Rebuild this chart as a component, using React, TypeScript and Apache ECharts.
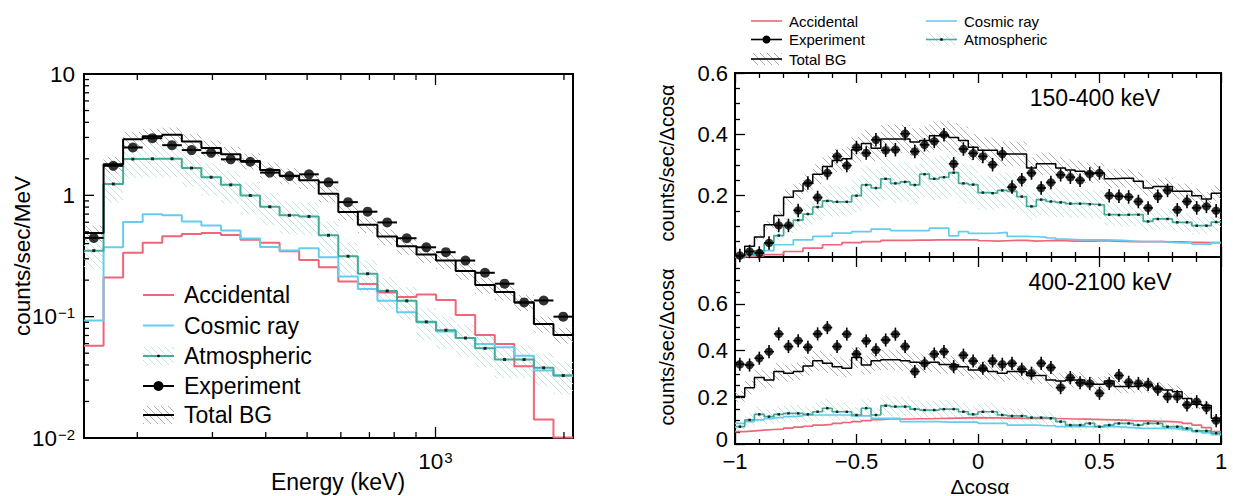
import React, { useEffect, useRef } from "react";
import * as echarts from "echarts";

const FONT = '"Liberation Sans", Arial, Helvetica, sans-serif';
const RED = "#EE6677";
const BLUE = "#66CCEE";
const TEAL = "#44AA99";
const BLACK = "#000000";

// ---------- Energy spectrum: 25 log-spaced bins, 150-2100 keV ----------
const energyEdges = [
  150, 166.7, 185.26, 205.89, 228.81, 254.29, 282.6, 314.07, 349.04, 387.9,
  431.09, 479.09, 532.43, 591.71, 657.59, 730.81, 812.18, 902.61, 1003.1,
  1114.8, 1238.9, 1376.8, 1530.1, 1700.5, 1889.8, 2100,
];
const accidentalSpec = [
  0.0577, 0.21, 0.336, 0.406, 0.46, 0.48, 0.49, 0.47, 0.43, 0.406, 0.346,
  0.293, 0.255, 0.195, 0.186, 0.158, 0.145, 0.152, 0.137, 0.103, 0.0705,
  0.0596, 0.0391, 0.0142, 0.0101,
];
const cosmicSpec = [
  0.093, 0.373, 0.603, 0.7, 0.686, 0.61, 0.563, 0.512, 0.44, 0.376, 0.351,
  0.366, 0.309, 0.214, 0.169, 0.135, 0.109, 0.0896, 0.0753, 0.0667, 0.0596,
  0.056, 0.0477, 0.036, 0.0327,
];
const atmosphericSpec = [
  0.35, 1.24, 1.99, 2.0, 2.0, 1.68, 1.41, 1.22, 0.997, 0.805, 0.684, 0.67,
  0.469, 0.315, 0.226, 0.163, 0.135, 0.0906, 0.0774, 0.0667, 0.0548, 0.0443,
  0.0443, 0.0379, 0.0327,
];
const totalBgSpec = [
  0.49, 1.8, 2.9, 3.07, 3.15, 2.78, 2.45, 2.18, 1.92, 1.62, 1.45, 1.33, 1.03,
  0.73, 0.573, 0.457, 0.38, 0.325, 0.29, 0.238, 0.182, 0.16, 0.131, 0.0869,
  0.0705,
];
const experimentSpec = [
  0.446, 1.75, 2.48, 2.96, 2.59, 2.36, 2.24, 1.98, 1.89, 1.54, 1.44, 1.49,
  1.28, 0.879, 0.733, 0.598, 0.443, 0.373, 0.34, 0.29, 0.23, 0.187, 0.131,
  0.136, 0.1,
];
const specTotalRelErr = 0.15;
const specAtmosRelErr = 0.3;
const specXTicks = [200, 300, 400, 500, 600, 700, 800, 900, 1000, 2000];
const specXMajor = [0, 0, 0, 0, 0, 0, 0, 0, 1, 0];
const specYTicks = [
  0.02, 0.03, 0.04, 0.05, 0.06, 0.07, 0.08, 0.09, 0.1, 0.2, 0.3, 0.4, 0.5,
  0.6, 0.7, 0.8, 0.9, 1, 2, 3, 4, 5, 6, 7, 8, 9,
];
const specYMajor = [0, 0, 0, 0, 0, 0, 0, 0, 1, 0, 0, 0, 0, 0, 0, 0, 0, 1, 0, 0, 0, 0, 0, 0, 0, 0];

// ---------- Angular distributions: 50 bins over Δcosα in [-1, 1] ----------
const cosEdges = Array.from({ length: 51 }, (_, i) => Math.round((-1 + i * 0.04) * 100) / 100);

// 150-400 keV
const experimentLow = [
  0.005, 0.018, 0.013, 0.046, 0.103, 0.103, 0.152, 0.241, 0.194, 0.274, 0.328,
  0.298, 0.357, 0.339, 0.382, 0.348, 0.35, 0.402, 0.344, 0.366, 0.377, 0.399,
  0.304, 0.352, 0.338, 0.328, 0.301, 0.336, 0.228, 0.252, 0.274, 0.225, 0.243,
  0.268, 0.26, 0.25, 0.271, 0.274, 0.2, 0.198, 0.196, 0.181, 0.16, 0.198,
  0.217, 0.154, 0.181, 0.16, 0.165, 0.151,
];
const totalBgLow = [
  0.004, 0.035, 0.065, 0.105, 0.135, 0.195, 0.215, 0.24, 0.27, 0.295, 0.315,
  0.32, 0.35, 0.37, 0.355, 0.385, 0.385, 0.385, 0.375, 0.38, 0.395, 0.395,
  0.39, 0.38, 0.358, 0.348, 0.348, 0.336, 0.336, 0.336, 0.29, 0.304, 0.304,
  0.29, 0.284, 0.28, 0.274, 0.274, 0.255, 0.257, 0.257, 0.247, 0.225, 0.23,
  0.23, 0.214, 0.214, 0.2, 0.189, 0.208,
];
const atmosphericLow = [
  0.002, 0.008, 0.02, 0.045, 0.07, 0.1, 0.12, 0.14, 0.163, 0.183, 0.18, 0.18,
  0.2, 0.235, 0.225, 0.255, 0.24, 0.245, 0.235, 0.27, 0.255, 0.26, 0.275,
  0.24, 0.236, 0.21, 0.208, 0.217, 0.214, 0.197, 0.165, 0.187, 0.181, 0.178,
  0.174, 0.174, 0.172, 0.17, 0.138, 0.137, 0.138, 0.138, 0.116, 0.124, 0.124,
  0.113, 0.113, 0.102, 0.102, 0.114,
];
const cosmicLow = [
  0.0, 0.005, 0.012, 0.021, 0.04, 0.04, 0.056, 0.056, 0.067, 0.067, 0.078,
  0.078, 0.083, 0.083, 0.091, 0.091, 0.086, 0.086, 0.086, 0.086, 0.094, 0.094,
  0.069, 0.083, 0.077, 0.077, 0.078, 0.08, 0.067, 0.067, 0.066, 0.065, 0.062,
  0.058, 0.057, 0.056, 0.056, 0.056, 0.055, 0.054, 0.052, 0.05, 0.05, 0.05,
  0.048, 0.046, 0.046, 0.042, 0.042, 0.047,
];
const accidentalLow = [
  0.0, 0.002, 0.004, 0.008, 0.008, 0.018, 0.018, 0.029, 0.029, 0.04, 0.04,
  0.047, 0.047, 0.05, 0.05, 0.054, 0.054, 0.054, 0.055, 0.055, 0.056, 0.056,
  0.056, 0.056, 0.056, 0.053, 0.052, 0.053, 0.054, 0.054, 0.052, 0.053, 0.054,
  0.053, 0.052, 0.052, 0.052, 0.053, 0.052, 0.051, 0.05, 0.05, 0.05, 0.05,
  0.049, 0.049, 0.048, 0.048, 0.047, 0.047,
];

// 400-2100 keV
const experimentHigh = [
  0.341, 0.338, 0.367, 0.395, 0.471, 0.417, 0.442, 0.414, 0.471, 0.498, 0.417,
  0.47, 0.385, 0.441, 0.403, 0.445, 0.47, 0.417, 0.31, 0.345, 0.385, 0.395,
  0.331, 0.38, 0.355, 0.324, 0.355, 0.341, 0.345, 0.32, 0.303, 0.345, 0.327,
  0.241, 0.284, 0.262, 0.259, 0.217, 0.259, 0.293, 0.264, 0.259, 0.255, 0.234,
  0.203, 0.203, 0.167, 0.181, 0.155, 0.1,
];
const totalBgHigh = [
  0.203, 0.241, 0.284, 0.274, 0.31, 0.303, 0.31, 0.334, 0.356, 0.345, 0.331,
  0.324, 0.37, 0.338, 0.356, 0.36, 0.36, 0.356, 0.35, 0.345, 0.35, 0.34,
  0.338, 0.33, 0.317, 0.317, 0.31, 0.303, 0.31, 0.31, 0.293, 0.293, 0.274,
  0.27, 0.274, 0.274, 0.256, 0.256, 0.27, 0.246, 0.246, 0.249, 0.249, 0.238,
  0.231, 0.224, 0.195, 0.17, 0.165, 0.11,
];
const atmosphericHigh = [
  0.074, 0.103, 0.127, 0.117, 0.127, 0.131, 0.131, 0.127, 0.138, 0.153, 0.138,
  0.138, 0.124, 0.153, 0.124, 0.164, 0.16, 0.16, 0.149, 0.145, 0.145, 0.149,
  0.149, 0.138, 0.127, 0.138, 0.138, 0.124, 0.12, 0.12, 0.113, 0.113, 0.11,
  0.096, 0.081, 0.081, 0.088, 0.074, 0.081, 0.088, 0.088, 0.081, 0.088, 0.088,
  0.074, 0.074, 0.067, 0.056, 0.056, 0.046,
];
const cosmicHigh = [
  0.088, 0.096, 0.103, 0.108, 0.113, 0.117, 0.12, 0.124, 0.124, 0.124, 0.124,
  0.124, 0.12, 0.12, 0.11, 0.11, 0.11, 0.096, 0.096, 0.096, 0.096, 0.094,
  0.094, 0.094, 0.094, 0.088, 0.088, 0.088, 0.081, 0.081, 0.081, 0.078, 0.078,
  0.074, 0.074, 0.074, 0.074, 0.074, 0.074, 0.072, 0.07, 0.067, 0.067, 0.067,
  0.067, 0.064, 0.06, 0.053, 0.048, 0.04,
];
const accidentalHigh = [
  0.053, 0.056, 0.059, 0.062, 0.064, 0.068, 0.072, 0.076, 0.081, 0.084, 0.088,
  0.092, 0.096, 0.1, 0.104, 0.107, 0.107, 0.107, 0.108, 0.108, 0.109, 0.11,
  0.111, 0.112, 0.113, 0.112, 0.112, 0.111, 0.111, 0.11, 0.11, 0.11, 0.109,
  0.108, 0.107, 0.106, 0.105, 0.104, 0.103, 0.102, 0.1, 0.099, 0.098, 0.097,
  0.096, 0.093, 0.088, 0.081, 0.07, 0.053,
];
const angTotalRelErr = 0.12;
const angAtmosRelErr = 0.27;
const expErrLow = 0.022;
const expErrHigh = 0.028;

// ---------- helpers ----------
function hatchPattern(color: string, size: number, lw: number) {
  const c = document.createElement("canvas");
  c.width = size;
  c.height = size;
  const g = c.getContext("2d")!;
  g.strokeStyle = color;
  g.lineWidth = lw;
  g.beginPath();
  g.moveTo(0, 0);
  g.lineTo(size, size);
  g.moveTo(-1, size - 1);
  g.lineTo(1, size + 1);
  g.moveTo(size - 1, -1);
  g.lineTo(size + 1, 1);
  g.stroke();
  return { image: c, repeat: "repeat", imageWidth: size, imageHeight: size } as any;
}

function histLine(edges: number[], values: number[], color: string, width: number, xi: number, yi: number, z = 3) {
  const data = values.map((v, i) => [edges[i], v]);
  data.push([edges[edges.length - 1], values[values.length - 1]]);
  return {
    type: "line",
    step: "end",
    xAxisIndex: xi,
    yAxisIndex: yi,
    z,
    silent: true,
    symbol: "none",
    showSymbol: false,
    data,
    lineStyle: { color, width },
    itemStyle: { color },
  };
}

function histBand(edges: number[], values: number[], rel: number, fill: any, xi: number, yi: number, z = 1) {
  return {
    type: "custom",
    xAxisIndex: xi,
    yAxisIndex: yi,
    z,
    silent: true,
    data: values.map((v, i) => [edges[i], edges[i + 1], v * (1 - rel), v * (1 + rel)]),
    encode: { x: [0, 1], y: [2, 3] },
    renderItem: (_p: any, api: any) => {
      const a = api.coord([api.value(0), api.value(3)]);
      const b = api.coord([api.value(1), api.value(2)]);
      return {
        type: "rect",
        shape: { x: a[0], y: a[1], width: b[0] - a[0], height: b[1] - a[1] },
        style: { fill, stroke: null },
      };
    },
  };
}

function centerMarkers(centers: number[], values: number[], size: number, xi: number, yi: number) {
  return {
    type: "scatter",
    xAxisIndex: xi,
    yAxisIndex: yi,
    z: 4,
    silent: true,
    symbol: "rect",
    symbolSize: size,
    itemStyle: { color: BLACK },
    data: values.map((v, i) => [centers[i], v]),
  };
}

function expErrorBars(edges: number[], centers: number[], values: number[], err: number, lw: number, xi: number, yi: number) {
  return {
    type: "custom",
    xAxisIndex: xi,
    yAxisIndex: yi,
    z: 5,
    silent: true,
    data: values.map((v, i) => [edges[i], edges[i + 1], centers[i], v, err]),
    encode: { x: 2, y: 3 },
    renderItem: (_p: any, api: any) => {
      const x0 = api.value(0), x1 = api.value(1), c = api.value(2), v = api.value(3), e = api.value(4);
      const L = api.coord([x0, v]);
      const R = api.coord([x1, v]);
      const children: any[] = [
        { type: "line", shape: { x1: L[0], y1: L[1], x2: R[0], y2: R[1] }, style: { stroke: BLACK, lineWidth: lw } },
      ];
      if (e > 0) {
        const T = api.coord([c, v + e]);
        const B = api.coord([c, v - e]);
        children.push({ type: "line", shape: { x1: T[0], y1: T[1], x2: B[0], y2: B[1] }, style: { stroke: BLACK, lineWidth: lw } });
      }
      return { type: "group", children };
    },
  };
}

function expDots(centers: number[], values: number[], size: number, xi: number, yi: number) {
  return {
    type: "scatter",
    xAxisIndex: xi,
    yAxisIndex: yi,
    z: 6,
    silent: true,
    symbol: "circle",
    symbolSize: size,
    itemStyle: { color: BLACK },
    data: values.map((v, i) => [centers[i], v]),
  };
}

type LegendKind = "line" | "hatchLine" | "dotLine";
function legendEntry(
  kind: LegendKind, label: string, color: string, fill: any, withCenterMark: boolean,
  x0: number, x1: number, y: number, tx: number, fontSize: number, boxH: number, lw: number, dotR: number,
) {
  const els: any[] = [];
  if (kind === "hatchLine") {
    els.push({ type: "rect", silent: true, shape: { x: x0, y: y - boxH / 2, width: x1 - x0, height: boxH }, style: { fill, stroke: null } });
  }
  els.push({ type: "line", silent: true, shape: { x1: x0, y1: y, x2: x1, y2: y }, style: { stroke: color, lineWidth: lw } });
  if (withCenterMark) {
    els.push({ type: "rect", silent: true, shape: { x: (x0 + x1) / 2 - 1.2, y: y - 1.2, width: 2.4, height: 2.4 }, style: { fill: BLACK } });
  }
  if (kind === "dotLine") {
    els.push({ type: "circle", silent: true, shape: { cx: (x0 + x1) / 2, cy: y, r: dotR }, style: { fill: BLACK } });
  }
  els.push({
    type: "text", silent: true, x: tx, y,
    style: { text: label, font: `${fontSize}px ${FONT}`, fill: BLACK, align: "left", verticalAlign: "middle" },
  });
  return els;
}

function textEl(text: string, x: number, y: number, size: number, rotation = 0) {
  return {
    type: "text", silent: true, x, y, rotation,
    style: { text, font: `${size}px ${FONT}`, fill: BLACK, align: "center", verticalAlign: "middle" },
  };
}

function buildOption() {
  const greyHatch = hatchPattern("#9a9a9a", 7, 0.8);
  const tealHatch = hatchPattern("#b9e2da", 7, 0.9);

  const specCenters = experimentSpec.map((_, i) => Math.sqrt(energyEdges[i] * energyEdges[i + 1]));
  const cosCenters = cosEdges.slice(0, -1).map((e, i) => (e + cosEdges[i + 1]) / 2);

  const supRich = {
    b: { fontSize: 22.5, fontFamily: FONT, color: BLACK },
    s: { fontSize: 15, fontFamily: FONT, color: BLACK, verticalAlign: "top", padding: [0, 0, 0, 1] },
  };
  const tickLabel = { fontFamily: FONT, fontSize: 22, color: BLACK };
  const minus = (v: number) => (v < 0 ? "\u2212" + Math.abs(v) : String(v));
  const tickStyle = { color: BLACK, width: 1.3 };

  const rightXBase = (gridIndex: number, position: string, showLabel: boolean) => ({
    type: "value", gridIndex, position, min: -1, max: 1, interval: 0.5,
    axisLine: { show: false, onZero: false }, splitLine: { show: false },
    axisTick: { show: true, inside: true, length: 10, lineStyle: tickStyle },
    minorTick: { show: true, splitNumber: 5, length: 5, lineStyle: tickStyle },
    axisLabel: { show: showLabel, margin: 8, lineHeight: 18, formatter: minus, ...tickLabel },
  });

  const rightY = (gridIndex: number, max: number, hide: number) => ({
    type: "value", gridIndex, position: "left", min: 0, max, interval: 0.2,
    axisLine: { show: false, onZero: false }, splitLine: { show: false },
    axisTick: { show: true, inside: true, length: 10, lineStyle: tickStyle },
    minorTick: { show: true, splitNumber: 4, length: 5, lineStyle: tickStyle },
    axisLabel: {
      margin: 7, lineHeight: 16, ...tickLabel,
      rich: { z: { fontFamily: FONT, fontSize: 22, color: BLACK, lineHeight: 16, padding: [0, 0, 10, 0] } },
      formatter: (v: number) => (Math.abs(v - hide) < 1e-9 ? "" : v === 0 ? "{z|0}" : v.toFixed(1)),
    },
  });

  const series: any[] = [
    // ---- spectrum ----
    histBand(energyEdges, atmosphericSpec, specAtmosRelErr, tealHatch, 0, 0, 1),
    histBand(energyEdges, totalBgSpec, specTotalRelErr, greyHatch, 0, 0, 1),
    histLine(energyEdges, accidentalSpec, RED, 2, 0, 0),
    histLine(energyEdges, cosmicSpec, BLUE, 2, 0, 0),
    histLine(energyEdges, atmosphericSpec, TEAL, 2, 0, 0),
    histLine(energyEdges, totalBgSpec, BLACK, 2, 0, 0),
    centerMarkers(specCenters, atmosphericSpec, 3, 0, 0),
    expErrorBars(energyEdges, specCenters, experimentSpec, 0, 2, 0, 0),
    expDots(specCenters, experimentSpec, 10, 0, 0),
    {
      type: "custom", xAxisIndex: 0, yAxisIndex: 0, z: 8, silent: true,
      data: specXTicks.map((v, i) => [v, 1, specXMajor[i]]),
      encode: { x: 0, y: 1 },
      renderItem: (_p: any, api: any) => {
        const v = api.value(0);
        const len = api.value(2) === 1 ? 11 : 6;
        const b = api.coord([v, 0.01]);
        const t = api.coord([v, 10]);
        const st = { stroke: BLACK, lineWidth: 1.3 };
        return {
          type: "group",
          children: [
            { type: "line", shape: { x1: b[0], y1: b[1], x2: b[0], y2: b[1] - len }, style: st },
            { type: "line", shape: { x1: t[0], y1: t[1], x2: t[0], y2: t[1] + len }, style: st },
          ],
        };
      },
    },
    {
      type: "custom", xAxisIndex: 0, yAxisIndex: 0, z: 8, silent: true,
      data: specYTicks.map((v, i) => [150, v, specYMajor[i]]),
      encode: { x: 0, y: 1 },
      renderItem: (_p: any, api: any) => {
        const p = api.coord([150, api.value(1)]);
        const len = api.value(2) === 1 ? 10 : 5;
        return { type: "line", shape: { x1: p[0], y1: p[1], x2: p[0] + len, y2: p[1] }, style: { stroke: BLACK, lineWidth: 1.3 } };
      },
    },
    // ---- 150-400 keV ----
    histBand(cosEdges, atmosphericLow, angAtmosRelErr, tealHatch, 1, 1, 1),
    histBand(cosEdges, totalBgLow, angTotalRelErr, greyHatch, 1, 1, 1),
    histLine(cosEdges, accidentalLow, RED, 1.7, 1, 1),
    histLine(cosEdges, cosmicLow, BLUE, 1.7, 1, 1),
    histLine(cosEdges, atmosphericLow, TEAL, 1.7, 1, 1),
    histLine(cosEdges, totalBgLow, BLACK, 1.5, 1, 1),
    centerMarkers(cosCenters, atmosphericLow, 2.5, 1, 1),
    expErrorBars(cosEdges, cosCenters, experimentLow, expErrLow, 1.6, 1, 1),
    expDots(cosCenters, experimentLow, 8.5, 1, 1),
    // ---- 400-2100 keV ----
    histBand(cosEdges, atmosphericHigh, angAtmosRelErr, tealHatch, 3, 2, 1),
    histBand(cosEdges, totalBgHigh, angTotalRelErr, greyHatch, 3, 2, 1),
    histLine(cosEdges, accidentalHigh, RED, 1.7, 3, 2),
    histLine(cosEdges, cosmicHigh, BLUE, 1.7, 3, 2),
    histLine(cosEdges, atmosphericHigh, TEAL, 1.7, 3, 2),
    histLine(cosEdges, totalBgHigh, BLACK, 1.5, 3, 2),
    centerMarkers(cosCenters, atmosphericHigh, 2.5, 3, 2),
    expErrorBars(cosEdges, cosCenters, experimentHigh, expErrHigh, 1.6, 3, 2),
    expDots(cosCenters, experimentHigh, 8.5, 3, 2),
  ];

  const graphics: any[] = [
    textEl("counts/sec/MeV", 22, 256, 22.5, Math.PI / 2),
    textEl("Energy (keV)", 338, 482, 23),
    textEl("counts/sec/\u0394cos\u03b1", 667, 163, 20, Math.PI / 2),
    textEl("counts/sec/\u0394cos\u03b1", 667, 347, 20, Math.PI / 2),
    textEl("\u0394cos\u03b1", 980, 486, 21),
    textEl("150-400 keV", 1095, 98, 23),
    textEl("400-2100 keV", 1100, 282, 23),
    // spectrum legend
    ...legendEntry("line", "Accidental", RED, null, false, 143, 174, 295, 184, 23, 18, 2, 5),
    ...legendEntry("line", "Cosmic ray", BLUE, null, false, 143, 174, 325.5, 184, 23, 18, 2, 5),
    ...legendEntry("hatchLine", "Atmospheric", TEAL, tealHatch, true, 143, 174, 356, 184, 23, 18, 2, 5),
    ...legendEntry("dotLine", "Experiment", BLACK, null, false, 143, 174, 386, 184, 23, 18, 2, 5),
    ...legendEntry("hatchLine", "Total BG", BLACK, greyHatch, false, 143, 174, 415, 184, 23, 18, 2, 5),
    // angular legend
    ...legendEntry("line", "Accidental", RED, null, false, 751, 782, 21, 789, 15, 12, 1.6, 4),
    ...legendEntry("line", "Cosmic ray", BLUE, null, false, 926, 957, 21, 964, 15, 12, 1.6, 4),
    ...legendEntry("dotLine", "Experiment", BLACK, null, false, 751, 782, 39.5, 789, 15, 12, 1.6, 4),
    ...legendEntry("hatchLine", "Atmospheric", TEAL, tealHatch, true, 926, 957, 39.5, 964, 15, 12, 1.6, 4),
    ...legendEntry("hatchLine", "Total BG", BLACK, greyHatch, false, 751, 782, 59, 789, 15, 12, 1.6, 4),
  ];

  return {
    animation: false,
    backgroundColor: "#ffffff",
    textStyle: { fontFamily: FONT },
    grid: [
      { left: 84, top: 74, width: 489, height: 364, show: true, borderColor: BLACK, borderWidth: 2, backgroundColor: "transparent" },
      { left: 735, top: 73, width: 486, height: 184, show: true, borderColor: BLACK, borderWidth: 2, backgroundColor: "transparent" },
      { left: 735, top: 257, width: 486, height: 187, show: true, borderColor: BLACK, borderWidth: 2, backgroundColor: "transparent" },
    ],
    xAxis: [
      {
        type: "log", logBase: 10, gridIndex: 0, min: 150, max: 2100,
        axisLine: { show: false, onZero: false }, axisTick: { show: false }, splitLine: { show: false },
        axisLabel: {
          margin: 12, fontFamily: FONT, fontSize: 22.5, color: BLACK, rich: supRich,
          showMinLabel: false, showMaxLabel: false,
          formatter: (v: number) => (Math.abs(v - 1000) < 1 ? "{b|10}{s|3}" : ""),
        },
      },
      rightXBase(1, "bottom", false),
      rightXBase(1, "top", false),
      rightXBase(2, "bottom", true),
      rightXBase(2, "top", false),
    ],
    yAxis: [
      {
        type: "log", logBase: 10, gridIndex: 0, min: 0.01, max: 10,
        axisLine: { show: false, onZero: false }, axisTick: { show: false }, splitLine: { show: false },
        axisLabel: {
          margin: 9, fontFamily: FONT, fontSize: 22.5, color: BLACK, rich: supRich,
          formatter: (v: number) => {
            const e = Math.round(Math.log10(v));
            if (e === 1) return "{b|10}";
            if (e === 0) return "{b|1}";
            return `{b|10}{s|\u2212${-e}}`;
          },
        },
      },
      rightY(1, 0.6, 0),
      rightY(2, 0.8, 0.8),
    ],
    series,
    graphic: { elements: graphics },
  };
}

export default function App() {
  const ref = useRef<HTMLDivElement>(null);
  useEffect(() => {
    document.body.style.margin = "0";
    const chart = echarts.init(ref.current!, undefined, { renderer: "svg" });
    chart.setOption(buildOption() as any);
    return () => chart.dispose();
  }, []);
  return <div ref={ref} style={{ width: 1233, height: 496 }} />;
}
